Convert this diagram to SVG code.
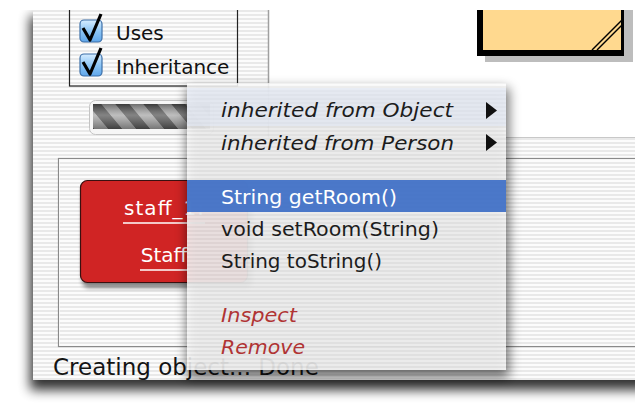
<svg xmlns="http://www.w3.org/2000/svg" width="635" height="411" viewBox="0 0 635 411">
<defs>
  <pattern id="stripes" width="4" height="4" patternUnits="userSpaceOnUse">
    <rect width="4" height="4" fill="#fcfcfc"/>
    <rect y="2" width="4" height="2" fill="#e9e9e9"/>
  </pattern>
  <pattern id="menuStripes" width="4" height="4" patternUnits="userSpaceOnUse">
    <rect width="4" height="4" fill="#ffffff"/>
    <rect y="2" width="4" height="2" fill="#f3f3f3"/>
  </pattern>
  <pattern id="barber" width="28" height="30" patternUnits="userSpaceOnUse" patternTransform="skewX(40)">
    <rect width="28" height="30" fill="#5a5a5a"/>
    <rect x="14" width="14" height="30" fill="#a8a8a8"/>
  </pattern>
  <linearGradient id="barGloss" x1="0" y1="0" x2="0" y2="1">
    <stop offset="0" stop-color="#000" stop-opacity="0.35"/>
    <stop offset="0.45" stop-color="#fff" stop-opacity="0.25"/>
    <stop offset="1" stop-color="#000" stop-opacity="0.3"/>
  </linearGradient>
  <linearGradient id="chk" x1="0" y1="0" x2="0" y2="1">
    <stop offset="0" stop-color="#d6ecff"/>
    <stop offset="0.5" stop-color="#8ec6f5"/>
    <stop offset="1" stop-color="#5fa6ea"/>
  </linearGradient>
  <filter id="blurBig" x="-20%" y="-20%" width="140%" height="140%">
    <feGaussianBlur stdDeviation="6"/>
  </filter>
  <filter id="blurSmall" x="-20%" y="-20%" width="140%" height="140%">
    <feGaussianBlur stdDeviation="2"/>
  </filter>
  <clipPath id="scene"><rect x="0" y="10" width="635" height="401"/></clipPath>
  <style>
    .ui { font-family: "DejaVu Sans", "Liberation Sans", sans-serif; }
    .item { font-size: 20px; fill: #1c1c1c; }
    .ital { font-style: italic; }
    .act { fill: #b03434; }
    .sel { fill: #ffffff; }
    .lbl { font-size: 20px; fill: #111; }
    .obj { font-size: 20px; fill: #ffffff; }
  </style>
</defs>
<rect width="635" height="411" fill="#ffffff"/>
<g clip-path="url(#scene)">
  <g id="window-shadow">
    <rect x="30" y="16" width="640" height="374" fill="#000" opacity="0.8" filter="url(#blurBig)"/>
  </g>
  <g id="window">
    <rect x="33" y="0" width="610" height="380" fill="url(#stripes)"/>
    <rect x="268" y="0" width="370" height="137" fill="#ffffff"/>
    <line x1="268.5" y1="0" x2="268.5" y2="137" stroke="#a0a0a0" stroke-width="1.5"/>
    <line x1="268" y1="137.5" x2="640" y2="137.5" stroke="#c8c8c8" stroke-width="1"/>
  </g>
  <g id="class-box">
    <rect x="485" y="0" width="148" height="62" fill="#bdbdbd"/>
    <rect x="477" y="0" width="147" height="56" fill="#000"/>
    <rect x="483" y="0" width="138" height="50" fill="#ffd98f"/>
    <line x1="592" y1="50" x2="622" y2="20" stroke="#000" stroke-width="1.5"/>
    <line x1="597" y1="50" x2="622" y2="25" stroke="#000" stroke-width="1.5"/>
  </g>
  <g id="view-options">
    <rect x="69.5" y="0" width="168" height="86" fill="none" stroke="#222" stroke-width="1.2"/>
    <g id="cb-uses">
      <rect x="80" y="20" width="22" height="22" rx="4" fill="url(#chk)" stroke="#3d6fa8" stroke-width="1.2"/>
      <path d="M83 28 L90 40 L101 14" fill="none" stroke="#000" stroke-width="3.2" stroke-linejoin="round"/>
      <text class="ui lbl" x="116" y="40">Uses</text>
    </g>
    <g id="cb-inheritance">
      <rect x="80" y="54" width="22" height="22" rx="4" fill="url(#chk)" stroke="#3d6fa8" stroke-width="1.2"/>
      <path d="M83 62 L90 74 L101 48" fill="none" stroke="#000" stroke-width="3.2" stroke-linejoin="round"/>
      <text class="ui lbl" x="116" y="74">Inheritance</text>
    </g>
  </g>
  <g id="progress">
    <rect x="89.5" y="100.5" width="124" height="34" rx="6" fill="#f6f6f6" stroke="#c4c4c4"/>
    <rect x="93" y="104" width="117" height="25" fill="url(#barber)"/>
    <rect x="93" y="104" width="117" height="25" fill="url(#barGloss)"/>
  </g>
  <g id="object-bench">
    <rect x="58.5" y="158.5" width="600" height="188" fill="none" stroke="#8a8a8a" stroke-width="1.2"/>
    <rect x="59.5" y="159.5" width="600" height="186" fill="none" stroke="#ffffff" stroke-width="0.8" opacity="0.8"/>
  </g>
  <g id="object-staff">
    <rect x="82" y="183" width="170" height="105" rx="7" fill="#000" opacity="0.45" filter="url(#blurSmall)"/>
    <rect x="80.5" y="180.5" width="167" height="102" rx="7" fill="#d02424" stroke="#3a1010" stroke-width="1.2"/>
    <text class="ui obj" x="124" y="215" textLength="80" lengthAdjust="spacing">staff_1:</text>
    <line x1="123" y1="223" x2="205" y2="223" stroke="#fff" stroke-width="1.6"/>
    <text class="ui obj" x="164" y="262" text-anchor="middle">Staff</text>
    <line x1="140" y1="270" x2="188" y2="270" stroke="#fff" stroke-width="1.6"/>
  </g>
  <g id="status">
    <text class="ui" x="53" y="375" font-size="23" fill="#151515">Creating object... Done</text>
  </g>
  <g id="popup-menu">
    <rect x="187" y="88" width="322" height="290" fill="#000" opacity="0.55" filter="url(#blurBig)"/>
    <rect x="187" y="83" width="319" height="287" fill="url(#menuStripes)" opacity="0.86"/>
    <rect x="187" y="88" width="319" height="38" fill="#dce4f2" opacity="0.55"/>
    <g id="mi-object">
      <text class="ui item ital" x="221" y="117" textLength="232" lengthAdjust="spacingAndGlyphs">inherited from Object</text>
      <polygon points="486,102 497,110.5 486,119" fill="#111"/>
    </g>
    <g id="mi-person">
      <text class="ui item ital" x="221" y="150" textLength="233" lengthAdjust="spacingAndGlyphs">inherited from Person</text>
      <polygon points="486,134 497,142.5 486,151" fill="#111"/>
    </g>
    <g id="mi-getroom">
      <rect x="187" y="180" width="319" height="32" fill="#3e6fc6" opacity="0.93"/>
      <text class="ui item sel" x="221" y="204" textLength="176" lengthAdjust="spacingAndGlyphs">String getRoom()</text>
    </g>
    <g id="mi-setroom">
      <text class="ui item" x="221" y="236" textLength="218" lengthAdjust="spacingAndGlyphs">void setRoom(String)</text>
    </g>
    <g id="mi-tostring">
      <text class="ui item" x="221" y="268" textLength="161" lengthAdjust="spacingAndGlyphs">String toString()</text>
    </g>
    <g id="mi-inspect">
      <text class="ui item ital act" x="221" y="322" textLength="76" lengthAdjust="spacingAndGlyphs">Inspect</text>
    </g>
    <g id="mi-remove">
      <text class="ui item ital act" x="221" y="354" textLength="84" lengthAdjust="spacingAndGlyphs">Remove</text>
    </g>
  </g>
</g>
</svg>
